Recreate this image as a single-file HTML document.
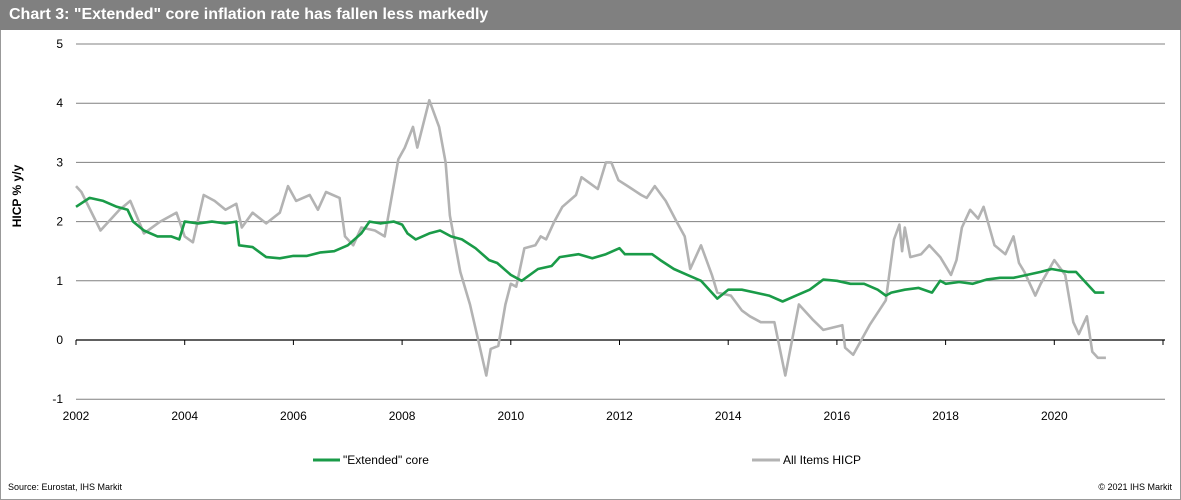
<!DOCTYPE html>
<html><head><meta charset="utf-8"><style>
body{margin:0;width:1181px;height:500px;overflow:hidden;background:#fff;font-family:"Liberation Sans",Arial,sans-serif}
#frame{position:absolute;left:0;top:0;width:1179px;height:498px;border:1px solid #999;background:#fff}
#title{position:absolute;left:0;top:0;width:1181px;height:30px;background:#808080;color:#fff;font-weight:bold;font-size:16px;line-height:30px;padding-left:9px;box-sizing:border-box}
</style></head><body>
<div id="frame"></div>
<div id="title">Chart 3: "Extended" core inflation rate has fallen less markedly</div>
<svg id="chart" width="1181" height="500" style="position:absolute;left:0;top:0"></svg>
<script>
const yTicks=[5,4,3,2,1,0,-1];
const xTicks=[2002,2004,2006,2008,2010,2012,2014,2016,2018,2020];
const coreT=[2002,2002.25,2002.5,2002.75,2002.95,2003.05,2003.25,2003.5,2003.75,2003.9,2004,2004.25,2004.5,2004.75,2004.95,2005,2005.25,2005.5,2005.75,2006,2006.25,2006.5,2006.75,2007,2007.25,2007.4,2007.6,2007.85,2008,2008.1,2008.25,2008.5,2008.7,2008.9,2009.1,2009.35,2009.6,2009.75,2010,2010.2,2010.5,2010.75,2010.9,2011.25,2011.5,2011.75,2012,2012.1,2012.4,2012.6,2012.75,2013,2013.25,2013.5,2013.8,2014,2014.25,2014.5,2014.75,2015,2015.25,2015.5,2015.75,2016,2016.25,2016.5,2016.75,2016.9,2017,2017.25,2017.5,2017.75,2017.9,2018,2018.25,2018.5,2018.75,2019,2019.25,2019.5,2019.75,2019.95,2020.25,2020.4,2020.6,2020.75,2020.92];
const coreV=[2.25,2.4,2.35,2.25,2.2,2.0,1.85,1.75,1.75,1.7,2.0,1.97,2.0,1.97,2.0,1.6,1.57,1.4,1.38,1.42,1.42,1.48,1.5,1.6,1.8,2.0,1.97,2.0,1.95,1.8,1.7,1.8,1.85,1.75,1.7,1.55,1.35,1.3,1.1,1.0,1.2,1.25,1.4,1.45,1.38,1.45,1.55,1.45,1.45,1.45,1.35,1.2,1.1,1.0,0.7,0.85,0.85,0.8,0.75,0.65,0.75,0.85,1.02,1.0,0.95,0.95,0.85,0.75,0.8,0.85,0.88,0.8,1.0,0.95,0.98,0.95,1.02,1.05,1.05,1.1,1.15,1.2,1.15,1.15,0.95,0.8,0.8];
const hicpT=[2002,2002.1,2002.45,2002.8,2003,2003.25,2003.55,2003.85,2004,2004.15,2004.35,2004.55,2004.75,2004.95,2005.05,2005.25,2005.5,2005.75,2005.9,2006.05,2006.3,2006.45,2006.6,2006.85,2006.95,2007.1,2007.25,2007.5,2007.68,2007.93,2008.05,2008.2,2008.28,2008.5,2008.68,2008.8,2008.88,2009.07,2009.25,2009.4,2009.55,2009.63,2009.77,2009.9,2010,2010.1,2010.25,2010.45,2010.55,2010.65,2010.8,2010.95,2011.2,2011.3,2011.45,2011.6,2011.75,2011.85,2011.98,2012.15,2012.4,2012.5,2012.65,2012.85,2013.05,2013.2,2013.3,2013.5,2013.7,2013.8,2014.05,2014.25,2014.4,2014.6,2014.85,2015.05,2015.3,2015.55,2015.75,2016.1,2016.15,2016.3,2016.6,2016.9,2017.05,2017.15,2017.2,2017.25,2017.35,2017.55,2017.7,2017.9,2018.1,2018.2,2018.3,2018.45,2018.6,2018.7,2018.9,2019.1,2019.25,2019.35,2019.45,2019.65,2019.75,2020,2020.2,2020.35,2020.45,2020.6,2020.7,2020.8,2020.95];
const hicpV=[2.6,2.5,1.85,2.2,2.35,1.8,2.0,2.15,1.75,1.65,2.45,2.35,2.2,2.3,1.9,2.15,1.97,2.15,2.6,2.35,2.45,2.2,2.5,2.4,1.75,1.6,1.9,1.85,1.75,3.05,3.25,3.6,3.25,4.05,3.6,3.0,2.1,1.15,0.6,0.0,-0.6,-0.15,-0.1,0.6,0.95,0.9,1.55,1.6,1.75,1.7,2.0,2.25,2.45,2.75,2.65,2.55,3.0,3.0,2.7,2.6,2.45,2.4,2.6,2.35,2.0,1.75,1.2,1.6,1.1,0.8,0.75,0.5,0.4,0.3,0.3,-0.6,0.6,0.35,0.17,0.25,-0.13,-0.25,0.25,0.67,1.7,1.95,1.5,1.9,1.4,1.45,1.6,1.4,1.1,1.35,1.9,2.2,2.05,2.25,1.6,1.45,1.75,1.3,1.15,0.75,0.95,1.35,1.1,0.3,0.1,0.4,-0.2,-0.3,-0.3];
const NS='http://www.w3.org/2000/svg';
const svg=document.getElementById('chart');
const X=t=>76+(t-2002)*54.35;
const Y=v=>340-v*59.2;
function mk(tag,at){const e=document.createElementNS(NS,tag);for(const k in at)e.setAttribute(k,at[k]);svg.appendChild(e);return e;}
yTicks.forEach(v=>{
  if(v!==0){const g=mk('line',{x1:76,x2:1165,y1:Y(v),y2:Y(v),stroke:'#808080','stroke-width':1});
  
  }
  const t=mk('text',{x:63,y:Y(v)+4,'font-size':12,'text-anchor':'end',fill:'#000'});t.textContent=v;
  
  
});
const ax=mk('line',{x1:76,x2:1165,y1:Y(0),y2:Y(0),stroke:'#000','stroke-width':1.3});


xTicks.concat([2022]).forEach(yr=>{const l=mk('line',{x1:X(yr),x2:X(yr),y1:Y(0),y2:Y(0)+5,stroke:'#000'});
  
  });
xTicks.forEach(yr=>{const t=mk('text',{x:X(yr),y:420,'font-size':12,'text-anchor':'middle',fill:'#000'});t.textContent=yr;
  
  });
const yt=mk('text',{x:0,y:0,'font-size':12,'font-weight':'bold','text-anchor':'middle',transform:'translate(21,196) rotate(-90)'});yt.textContent='HICP % y/y';


function line(T,V,col,name){const d=T.map((t,i)=>(i?'L':'M')+X(t).toFixed(1)+','+Y(V[i]).toFixed(1)).join('');
  const p=mk('path',{d:d,fill:'none',stroke:col,'stroke-width':2.6,'stroke-linejoin':'round'});
  
  }
line(hicpT,hicpV,'#b3b3b3','all-items-hicp-line');
line(coreT,coreV,'#1a9b48','extended-core-line');
const l1=mk('line',{x1:313,x2:340,y1:460,y2:460,stroke:'#1a9b48','stroke-width':3});


const t1=mk('text',{x:343,y:464,'font-size':12});t1.textContent='"Extended" core';


const l2=mk('line',{x1:752,x2:780,y1:460,y2:460,stroke:'#b3b3b3','stroke-width':3});


const t2=mk('text',{x:783,y:464,'font-size':12});t2.textContent='All Items HICP';


const s1=mk('text',{x:8,y:490,'font-size':9});s1.textContent='Source:  Eurostat, IHS Markit';


const s2=mk('text',{x:1172,y:490,'font-size':9,'text-anchor':'end'});s2.textContent='© 2021  IHS Markit';


</script>
</body></html>
